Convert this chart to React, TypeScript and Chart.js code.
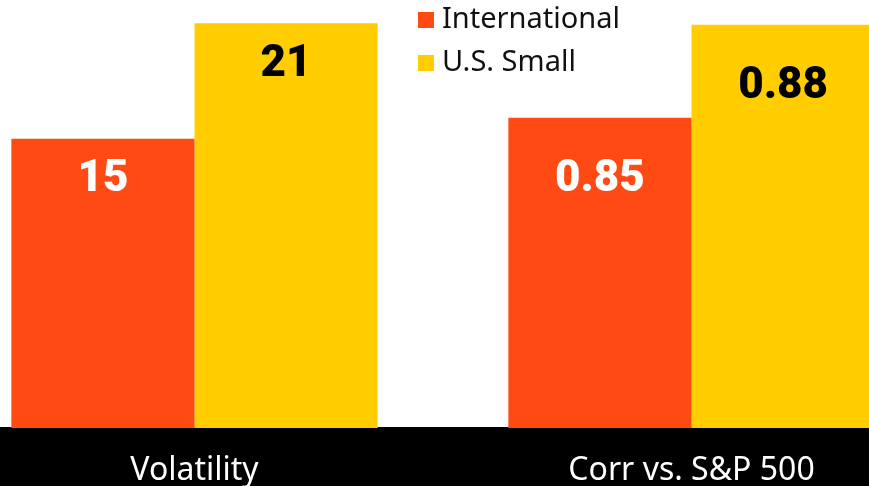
import { useEffect, useRef } from 'react';
import { Chart, registerables } from 'chart.js';

Chart.register(...registerables);

const categories = ['Volatility', 'Corr vs. S&P 500'];
const seriesNames = ['International', 'U.S. Small'];
const volatilityValues = [15, 21];
const correlationValues = [0.85, 0.88];
const seriesColors = ['#FF4A14', '#FFCD00'];
const valueLabelColors = ['#FFFFFF', '#000000'];

const CANVAS_LEFT = -54;
const CANVAS_WIDTH = 994;
const CANVAS_HEIGHT = 486;

const bandPlugin = {
  id: 'band',
  beforeDraw(chart: any) {
    const { ctx, chartArea, width, height } = chart;
    ctx.save();
    ctx.fillStyle = '#000000';
    ctx.fillRect(0, chartArea.bottom - 1, width, height - chartArea.bottom + 1);
    ctx.restore();
  },
};

const valueLabelPlugin = {
  id: 'valueLabels',
  afterDatasetsDraw(chart: any) {
    const { ctx } = chart;
    const offsets = [41.5, 62];
    ctx.save();
    ctx.font = '900 44px Roboto';
    ctx.textAlign = 'center';
    ctx.textBaseline = 'middle';
    chart.data.datasets.forEach((ds: any, di: number) => {
      const meta = chart.getDatasetMeta(di);
      meta.data.forEach((el: any, i: number) => {
        const v = ds.data[i];
        if (v === null || v === undefined) return;
        ctx.fillStyle = ds.valueColor;
        ctx.fillText(String(v), el.x, el.y + offsets[i]);
      });
    });
    ctx.restore();
  },
};

const legendPlugin = {
  id: 'customLegend',
  afterDraw(chart: any) {
    const { ctx } = chart;
    const left = 418 - CANVAS_LEFT;
    const rows = [20, 63];
    ctx.save();
    ctx.font = '29px "Noto Sans"';
    ctx.textBaseline = 'middle';
    ctx.textAlign = 'left';
    seriesNames.forEach((name, i) => {
      ctx.fillStyle = seriesColors[i];
      ctx.fillRect(left, rows[i] - 8, 16, 16);
      ctx.fillStyle = '#111111';
      ctx.fillText(name, left + 24, rows[i]);
    });
    ctx.restore();
  },
};

export default function App() {
  const ref = useRef<HTMLCanvasElement | null>(null);

  useEffect(() => {
    document.body.style.margin = '0';
    if (!ref.current) return;
    const chart = new Chart(ref.current, {
      type: 'bar',
      data: {
        labels: categories,
        datasets: [
          {
            label: seriesNames[0],
            data: [volatilityValues[0], null],
            yAxisID: 'y',
            backgroundColor: seriesColors[0],
            valueColor: valueLabelColors[0],
          } as any,
          {
            label: seriesNames[1],
            data: [volatilityValues[1], null],
            yAxisID: 'y',
            backgroundColor: seriesColors[1],
            valueColor: valueLabelColors[1],
          } as any,
          {
            label: seriesNames[0],
            data: [null, correlationValues[0]],
            yAxisID: 'y2',
            backgroundColor: seriesColors[0],
            valueColor: valueLabelColors[0],
          } as any,
          {
            label: seriesNames[1],
            data: [null, correlationValues[1]],
            yAxisID: 'y2',
            backgroundColor: seriesColors[1],
            valueColor: valueLabelColors[1],
          } as any,
        ],
      },
      options: {
        animation: false,
        responsive: false,
        maintainAspectRatio: false,
        layout: { padding: 0 },
        datasets: {
          bar: {
            categoryPercentage: 0.737,
            barPercentage: 1,
            skipNull: true,
            borderWidth: 0,
          },
        },
        plugins: {
          legend: { display: false },
          tooltip: { enabled: false },
          title: { display: false },
        },
        scales: {
          x: {
            grid: { display: false, drawTicks: false },
            border: { display: false },
            ticks: {
              color: '#FFFFFF',
              font: { family: '"Noto Sans"', size: 32 },
              padding: 24,
              maxRotation: 0,
              autoSkip: false,
            },
            afterFit: (axis: any) => {
              axis.height = 58;
            },
          },
          y: {
            display: false,
            min: 0,
            max: 22.2,
          },
          y2: {
            display: false,
            min: 0.75,
            max: 0.888,
          },
        },
      } as any,
      plugins: [bandPlugin, valueLabelPlugin, legendPlugin],
    });
    return () => chart.destroy();
  }, []);

  return (
    <div style={{ position: 'relative', width: 869, height: 486, overflow: 'hidden' }}>
      <canvas
        ref={ref}
        width={CANVAS_WIDTH}
        height={CANVAS_HEIGHT}
        style={{ position: 'absolute', left: CANVAS_LEFT, top: 0, width: CANVAS_WIDTH, height: CANVAS_HEIGHT }}
      />
    </div>
  );
}
